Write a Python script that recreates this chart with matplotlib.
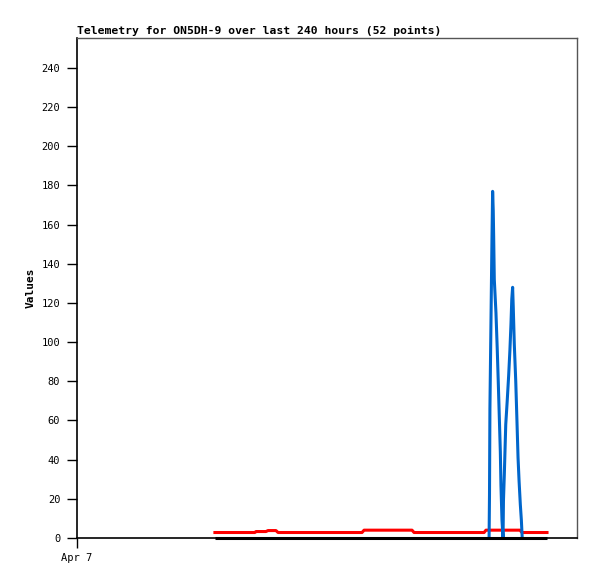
import matplotlib
matplotlib.use("Agg")
import matplotlib.pyplot as plt

# hours since Apr 7 00:00
red_hours = [66.2, 85.4, 85.9, 90.7, 91.7, 95.5, 96.5, 136.8, 137.8,
             160.8, 161.8, 195.4, 196.3, 212.6, 213.6, 225.6]
red_values = [2.8, 2.8, 3.3, 3.3, 3.8, 3.8, 2.8, 2.8, 4.0,
              4.0, 2.8, 2.8, 4.0, 4.0, 2.8, 2.8]

blue_hours = [197.8, 198.0, 198.2, 198.7, 199.2, 199.5, 199.8, 200.0, 200.3,
              201.1, 201.7, 202.2, 202.7, 203.2, 203.5, 204.0, 204.5, 204.7,
              205.1, 205.8, 206.5, 207.2, 207.8, 208.3, 208.7, 209.1, 209.4,
              209.9, 210.6, 211.2, 211.7, 212.2, 212.8, 213.3, 213.7]
blue_values = [0, 22, 66, 110, 154, 177, 167, 154, 132,
               115, 97, 80, 62, 44, 27, 9, 0, 19,
               32, 58, 70, 83, 96, 109, 122, 128, 118,
               99, 80, 59, 41, 29, 17, 9, 0]

black_hours = [66.2, 225.6]
black_values = [0, 0]

y_ticks = list(range(0, 241, 20))
x_tick_hours = [0]
x_tick_labels = ["Apr 7"]
title = "Telemetry for ON5DH-9 over last 240 hours (52 points)"

mono = "DejaVu Sans Mono"

fig = plt.figure(figsize=(5.97, 5.79), dpi=100)
ax = fig.add_axes([77 / 597, 41 / 579, 500 / 597, 500 / 579])

ax.plot(red_hours, red_values, color="#ff0000", lw=2.2, zorder=3)
ax.plot(blue_hours, blue_values, color="#0066cc", lw=2.2, zorder=4)
ax.plot(black_hours, black_values, color="black", lw=2.2, zorder=5,
        solid_capstyle="butt", clip_on=False)

ax.set_xlim(0, 240)
ax.set_ylim(0, 255.3)

ax.set_yticks(y_ticks)
ax.set_yticklabels([str(v) for v in y_ticks], family=mono, fontsize=7.5)
ax.set_xticks(x_tick_hours)
ax.set_xticklabels(x_tick_labels, family=mono, fontsize=7.5)
ax.tick_params(axis="y", length=7, width=1, pad=5, color="black")
ax.tick_params(axis="x", length=7, width=1, pad=4, color="black")

for side in ("left", "bottom"):
    ax.spines[side].set_color("black")
    ax.spines[side].set_linewidth(1.2)
for side in ("top", "right"):
    ax.spines[side].set_color("#555555")
    ax.spines[side].set_linewidth(1.0)

ax.set_ylabel("Values", family=mono, fontweight="bold", fontsize=8, labelpad=4)
ax.set_title(title, family=mono, fontweight="bold", fontsize=8.2, loc="left", pad=3)

fig.savefig("out.png", dpi=100)
